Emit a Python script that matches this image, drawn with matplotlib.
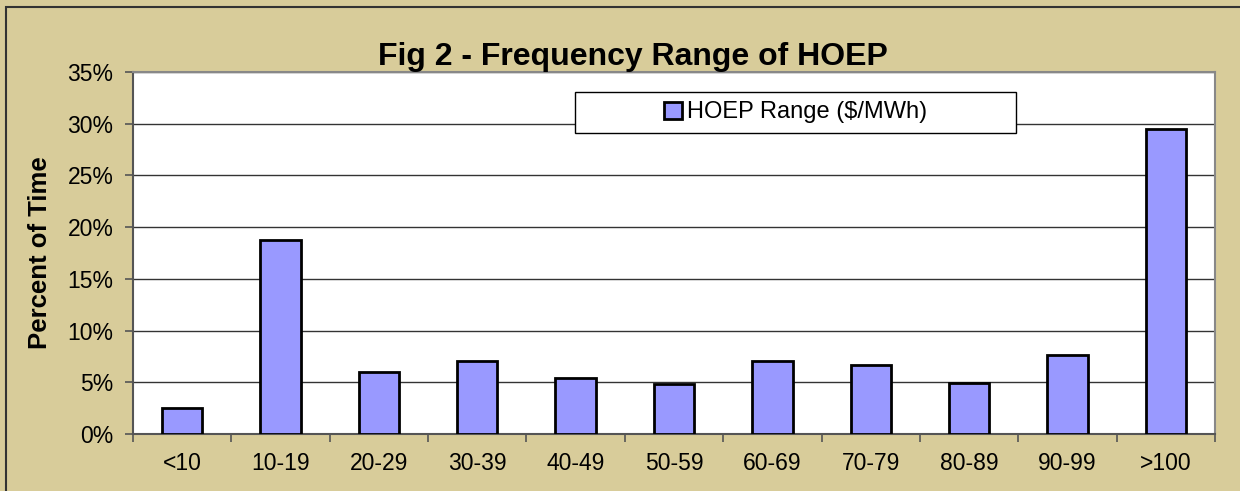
import matplotlib
matplotlib.use("Agg")
import matplotlib.pyplot as plt
import numpy as np
from matplotlib.patches import Rectangle
from matplotlib.ticker import PercentFormatter, FixedLocator

plt.rcParams['font.family'] = ['Liberation Sans', 'DejaVu Sans']

categories = ['<10', '10-19', '20-29', '30-39', '40-49', '50-59',
              '60-69', '70-79', '80-89', '90-99', '>100']
percent_time = [2.5, 18.8, 6.0, 7.05, 5.4, 4.85, 7.05, 6.7, 4.95, 7.65, 29.5]

bg = '#D8CC9A'
fig = plt.figure(figsize=(12.4, 4.91), dpi=100, facecolor=bg)
fig.patches.append(Rectangle((0.005, -0.05), 1.2, 1.036, transform=fig.transFigure,
                             fill=False, edgecolor='#333333', linewidth=1.5))
ax = fig.add_axes([133 / 1240, 1 - 434 / 491, (1215 - 133) / 1240, (434 - 72) / 491])
ax.set_facecolor('white')

x = np.arange(len(categories))
ax.bar(x, percent_time, width=0.41, color='#9999FF', edgecolor='black',
       linewidth=2, zorder=3, label='HOEP Range ($/MWh)')

ax.set_xlim(-0.5, len(categories) - 0.5)
ax.set_ylim(0, 35)
ax.set_yticks(np.arange(0, 36, 5))
ax.yaxis.set_major_formatter(PercentFormatter(decimals=0))
ax.set_xticks(x)
ax.set_xticklabels(categories)
ax.xaxis.set_minor_locator(FixedLocator(np.arange(-0.5, len(categories), 1)))
ax.tick_params(axis='x', which='major', length=0, pad=13, labelsize=16.5)
ax.tick_params(axis='x', which='minor', length=6, width=1.2, color='#555555')
ax.tick_params(axis='y', length=6, width=1.2, color='#555555', pad=8, labelsize=16.5)
ax.grid(axis='y', color='#333333', linewidth=1, zorder=1)

for side in ['top', 'right']:
    ax.spines[side].set_color('#888888')
    ax.spines[side].set_linewidth(1.5)
for side in ['left', 'bottom']:
    ax.spines[side].set_color('#555555')
    ax.spines[side].set_linewidth(1.5)

ax.set_ylabel('Percent of Time', fontsize=18.5, fontweight='bold', labelpad=11)
ax.set_title('Fig 2 - Frequency Range of HOEP', fontsize=23, fontweight='bold',
             pad=5, x=(633 - 133) / 1082)

# legend box (Excel-style: fixed white box with centred entry)
bx0, by0 = (575 - 133) / 1082, (434 - 133) / 362
bw, bh = (1016 - 575) / 1082, (133 - 92) / 362
ax.add_patch(Rectangle((bx0, by0), bw, bh, transform=ax.transAxes, facecolor='white',
                       edgecolor='black', linewidth=1, zorder=4))
leg = ax.legend(loc='center', bbox_to_anchor=(bx0 + bw / 2, by0 + bh / 2),
                fontsize=17, frameon=False, handlelength=0.75, handleheight=0.75,
                handletextpad=0.2, borderaxespad=0, borderpad=0)
leg.set_zorder(5)

fig.savefig('out.png', dpi=100, facecolor=bg)
